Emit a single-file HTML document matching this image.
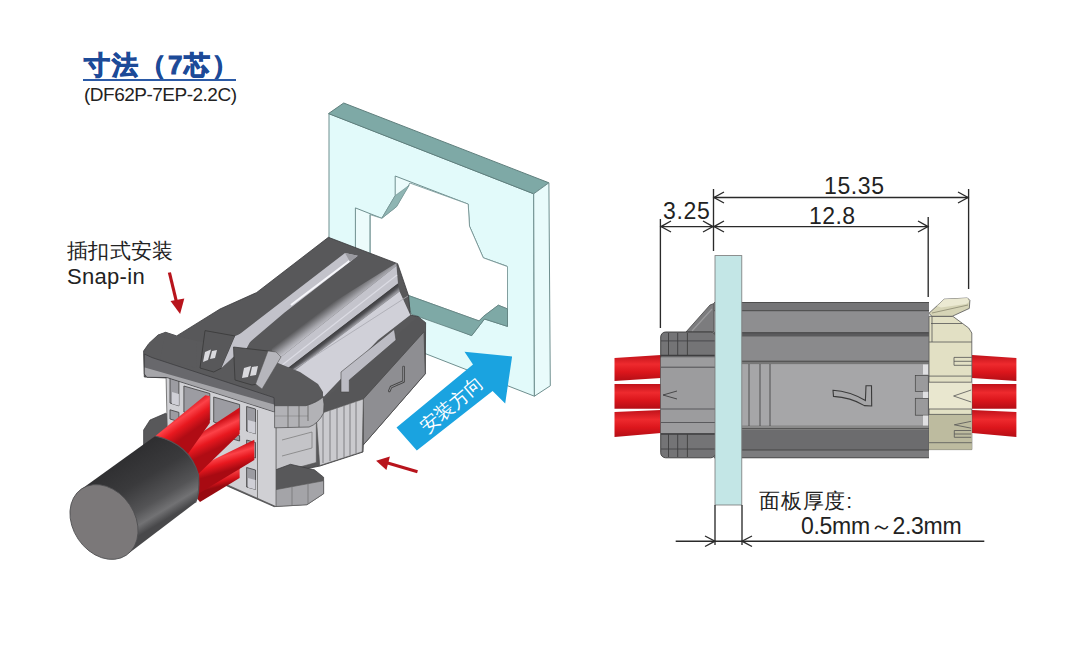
<!DOCTYPE html>
<html><head><meta charset="utf-8">
<style>
html,body{margin:0;padding:0;background:#fff;}
body{width:1080px;height:653px;overflow:hidden;position:relative;font-family:"Liberation Sans",sans-serif;}
svg{position:absolute;left:0;top:0;}
.t{position:absolute;white-space:nowrap;line-height:1;}
</style></head><body>
<svg width="1080" height="653" viewBox="0 0 1080 653">
<defs>
<linearGradient id="wireR" x1="0" y1="0" x2="0" y2="1">
<stop offset="0" stop-color="#c0121a"/><stop offset="0.35" stop-color="#ee2a2e"/><stop offset="0.65" stop-color="#dc161c"/><stop offset="1" stop-color="#b40e16"/>
</linearGradient>
</defs>

<!-- ============ PANEL ============ -->
<g id="panel">
 <polygon points="329,113.6 533.7,193.8 534.4,396.2 329,316" fill="#e2fafa" stroke="#6f8f8f" stroke-width="1"/>
 <polygon points="328.5,113.6 343.7,103 548.9,182.8 533.7,193.8" fill="#7ea9a6" stroke="#5f7f7d" stroke-width="1"/>
 <polygon points="533.7,193.8 548.9,182.8 550.3,385.8 534.4,396.2" fill="#e9fbfb" stroke="#6f8f8f" stroke-width="1"/>
 <!-- opening inner walls -->
 <polygon points="355.4,207.9 381.8,218.3 395.2,195.6 395.2,176 468.2,204.1 469.5,226.2 483.3,257.8 506.8,266.1 507.5,326.4 484.5,319 471.7,335.6 355.4,290" fill="#ecfbfb" stroke="#6f8f8f" stroke-width="1"/>
 <polygon points="370.1,214.6 381.8,218.3 396.5,206.7 409.9,183 468.2,204.1 469.5,226.2 483.3,257.8 507.5,266.6 507.5,308.9 498.3,305.2 483.6,316.3 479,320.9 407.4,295.1 370.1,280" fill="#ffffff" stroke="#6f8f8f" stroke-width="0.8"/>
 <polygon points="381.8,218.3 395.2,195.6 409.3,185.2 396.5,206.7" fill="#8fb5b3" stroke="#6f8f8f" stroke-width="0.6"/>
 <polygon points="407.4,295.1 479,320.9 483.6,316.3 498.3,305.2 507.5,308.9 507.5,326.4 484.5,319 471.7,335.6 411,314" fill="#7ea9a6" stroke="#5f7f7d" stroke-width="0.8"/>
 <line x1="370.1" y1="214.6" x2="370.1" y2="290" stroke="#6f8f8f" stroke-width="0.8"/>
</g>
<!-- blue arrow -->
<polygon points="396.5,427.6 473,364.5 464.5,351.8 512.1,356.4 505.2,403.5 492.6,390.9 416.8,450.6" fill="#1aa3e0"/>
<!-- red arrows -->
<line x1="169.4" y1="272.5" x2="176.5" y2="302" stroke="#b8141c" stroke-width="3.2"/>
<polygon points="170.5,301 184.3,298.5 180.1,314" fill="#b8141c"/>
<line x1="417.5" y1="471.7" x2="386" y2="462.5" stroke="#b8141c" stroke-width="3"/>
<polygon points="376.1,460.7 389.9,456.5 386.4,470" fill="#b8141c"/>

<!-- ============ LEFT CONNECTOR ============ -->
<g id="conn">
 <!-- roof silhouette -->
 <polygon points="143.6,351 148.5,344 158,335 165.6,332.3 176.7,335.9 220,309 256.7,292.5 328.4,237.3 397.6,263.7 400.5,272 408.6,295.8 410.3,315.1 418,316.5 425.6,322.7 425.3,373.8 363.3,444.9 363,452 320,466 275,475 168,440 167,378 144.3,377" fill="#58585a" stroke="#3a3a3c" stroke-width="0.8"/>
 <!-- groove stripe -->
 <polygon points="221.4,368.5 232,340 345,253 357.8,255.7 284.3,312.7 250,342 236,368" fill="#c2c2ca"/>
 <line x1="291" y1="305" x2="352" y2="259" stroke="#f6f6fa" stroke-width="2"/>
 <polygon points="345,253 357.8,255.7 350,262" fill="#9a9aa0"/>
 <!-- rail2 bevel -->
 <defs>
  <linearGradient id="bev" gradientUnits="userSpaceOnUse" x1="332" y1="303" x2="341" y2="315">
   <stop offset="0" stop-color="#58585a"/><stop offset="0.55" stop-color="#a4a4aa"/><stop offset="1" stop-color="#d4d4dc"/>
  </linearGradient>
  <linearGradient id="dln" gradientUnits="userSpaceOnUse" x1="335" y1="331" x2="339.3" y2="336.6">
   <stop offset="0" stop-color="#38383a"/><stop offset="0.5" stop-color="#505054"/><stop offset="1" stop-color="#9a9aa0"/>
  </linearGradient>
 </defs>
 <polygon points="270,341.5 396.5,263 396.5,265.7 281,357 272,351" fill="url(#bev)"/>
 <!-- rail2 front face -->
 <polygon points="281,357 396.5,265.7 398,283.6 262,388" fill="#c4c4cc"/>
 <line x1="272" y1="373" x2="397" y2="275" stroke="#dcdce4" stroke-width="1.2"/>
 <!-- dark line -->
 <polygon points="262,388 398,283.6 399.6,291.5 265,393" fill="url(#dln)"/>
 <!-- housing light face -->
 <polygon points="265,393 399.6,291.5 410.3,315 378,340 324,396.4 282,379" fill="#d0d0d8"/>
 <line x1="282" y1="377" x2="408" y2="296" stroke="#a8a8b0" stroke-width="0.8"/>
 <!-- lip top dark -->
 <polygon points="144.3,353 149,343 158,335 165.6,332.3 176.7,335.9 197,341 233.5,347 256,354 300,372 318,384 323,392 323,397 306,405.7 274.6,405.7 274,397.6 151.8,357.5" fill="#5a5a5c"/>
 <polygon points="165.6,332.3 176.7,335.9 197,341 196.8,368 160,359.6" fill="#5a5a5c"/>
 <!-- rail1 front end -->
 <polygon points="205,330.6 235.2,336 221.4,368.1 213.8,372 200,368" fill="#58585a" stroke="#333" stroke-width="0.7"/>
 <polygon points="221.4,368.1 235.2,336 250,330 250.5,341.3" fill="#c2c2ca"/>
 <polygon points="205,352 211,349.5 208,360 203,362" fill="#dadade"/>
 <polygon points="212,351 217,350 215,358 210,359" fill="#dadade"/>
 <!-- rail2 front end -->
 <polygon points="233.5,347 268,351 275.2,352.3 258,384 252,385 235,380" fill="#58585a" stroke="#333" stroke-width="0.7"/>
 <polygon points="244,368 251,366 248,377 242,378" fill="#dadade"/>
 <polygon points="252,367 258,366 256,375 250,376" fill="#dadade"/>
 <!-- rail2 rounded light edge -->
 <polygon points="268,351 276,352 281,357 262,389 255.6,384" fill="#b6b6bc" stroke="#555" stroke-width="0.5"/>
 <!-- right block top dark -->
 <polygon points="324,400 418,316.5 425.6,322.7 424,331.8 363.3,399 325,412" fill="#565658"/>
 <!-- latch on right block -->
 <polygon points="341,372 394.3,329.3 396,340 349.3,380 349.3,392 341,392" fill="#bcbcc4" stroke="#444" stroke-width="0.6"/>
 <!-- right block front face -->
 <polygon points="363.3,399 424,331.8 425.3,373.8 363.3,444.9" fill="#8e8e92" stroke="#444" stroke-width="0.7"/>
 <path d="M403.6,367 L403.6,381.5 Q398,384 391,387 L389.3,391" fill="none" stroke="#444" stroke-width="2.6" stroke-linecap="round" stroke-linejoin="round"/><path d="M403.6,367 L403.6,381.5 Q398,384 391,387 L389.3,391" fill="none" stroke="#8e8e92" stroke-width="1" stroke-linecap="round" stroke-linejoin="round"/>
 <!-- ribs -->
 <polygon points="316.2,415 363.3,399 362.2,451.8 319.7,465.6" fill="#cacace" stroke="#555" stroke-width="0.6"/>
 <g stroke="#77777b" stroke-width="0.9">
  <line x1="323" y1="413" x2="323" y2="463"/><line x1="330" y1="410.5" x2="330" y2="461"/>
  <line x1="337" y1="408" x2="337" y2="459"/><line x1="344" y1="406" x2="344" y2="457"/>
  <line x1="350" y1="404" x2="350" y2="455"/><line x1="356" y1="402" x2="356" y2="453"/>
 </g>
 <!-- housing side face between lips -->
 <polygon points="275.8,425.7 316.3,418.4 316.3,462.5 275.8,473.5" fill="#c4c4c8" stroke="#555" stroke-width="0.6"/>
 <polyline points="282,440 312,432 312,448 282,456" fill="none" stroke="#777" stroke-width="0.7"/>
 <!-- lower lip -->
 <polygon points="143.6,430 150,420 165.6,413.3 275,470 290.5,464.3 314.4,469.8 323.6,477.2 323.6,493.7 307,504.7 274,506.6 222.6,484 143.6,447" fill="#58585a" stroke="#3a3a3c" stroke-width="0.7"/>
 <polygon points="274,490 323.6,480.8 323.6,493.7 307,504.7 274,506.6" fill="#a4a4a8" stroke="#555" stroke-width="0.6"/>
 <line x1="292" y1="487" x2="292" y2="505" stroke="#666" stroke-width="0.6"/>
 <line x1="308" y1="484" x2="308" y2="504" stroke="#666" stroke-width="0.6"/>
 <!-- grid frame -->
 <polygon points="166,375 276,407 276,506.6 222.6,482.7 168,462" fill="#d0d0d4" stroke="#555" stroke-width="0.7"/>
 <g fill="#9c9ca2" stroke="#3c3c3e" stroke-width="0.8">
  <polygon points="170,378 178.9,380.6 178.9,405.8 170,403"/>
  <polygon points="183.9,386 209.8,393.5 209.8,420 183.9,412"/>
  <polygon points="213.7,397 239.6,404.5 239.6,430 213.7,422"/>
  <polygon points="246.6,406.5 255.5,409 255.5,433.7 246.6,431"/>
  <polygon points="225.7,431.7 239.6,435.7 239.6,441 225.7,437"/>
  <polygon points="246.6,467.5 255.5,470 255.5,489.4 246.6,487"/>
  <polygon points="170,409.8 178.9,412.4 178.9,421.7 170,419"/>
  <polygon points="246.6,440 255.5,442.5 255.5,458 246.6,455.5"/>
 </g>
 <g fill="#cfcfd6">
  <polygon points="172,392 178.9,394 178.9,405.8 172,403.8"/>
  <polygon points="248,420 255.5,422 255.5,433.7 248,431.7"/>
  <polygon points="248,478 255.5,480 255.5,489.4 248,487.4"/>
 </g>
 <line x1="257.5" y1="410" x2="257.5" y2="500" stroke="#666" stroke-width="0.8"/>
 <!-- lip front face -->
 <polygon points="144.3,354 151.8,357.5 274,397.6 274.6,412 166.8,377.5 147,377.2 144.3,374" fill="#68686c" stroke="#3a3a3c" stroke-width="0.7"/>
 <polygon points="144.8,367.5 274,404.5 274,411.5 166.8,377 147,376.7 144.8,374" fill="#a6a6aa"/>
 <path d="M274.6,405.7 L306,405.7 Q318,402 323,397 L324,404 L323.6,413 Q318,424 309,427 L274.6,427.8 Z" fill="#b2b2b6" stroke="#4a4a4c" stroke-width="0.7"/>
 <line x1="288" y1="406" x2="288" y2="427.5" stroke="#555" stroke-width="0.7"/><line x1="275" y1="416" x2="308" y2="416" stroke="#777" stroke-width="0.5"/>
 <line x1="299" y1="406" x2="299" y2="427" stroke="#555" stroke-width="0.7"/><line x1="308" y1="405" x2="308" y2="421" stroke="#555" stroke-width="0.7"/>
 <!-- wires -->
 <defs>
  <linearGradient id="w1" gradientUnits="userSpaceOnUse" x1="183" y1="408" x2="197" y2="428"><stop offset="0" stop-color="#d0121a"/><stop offset="0.3" stop-color="#fc4248"/><stop offset="0.6" stop-color="#e8181f"/><stop offset="1" stop-color="#b00c14"/></linearGradient>
  <linearGradient id="w2" gradientUnits="userSpaceOnUse" x1="208" y1="427" x2="218" y2="448"><stop offset="0" stop-color="#d0121a"/><stop offset="0.3" stop-color="#fc4248"/><stop offset="0.6" stop-color="#e8181f"/><stop offset="1" stop-color="#b00c14"/></linearGradient>
  <linearGradient id="w3" gradientUnits="userSpaceOnUse" x1="224" y1="450" x2="230" y2="470"><stop offset="0" stop-color="#d0121a"/><stop offset="0.3" stop-color="#fc4248"/><stop offset="0.6" stop-color="#e8181f"/><stop offset="1" stop-color="#a80a12"/></linearGradient>
  <linearGradient id="w4" gradientUnits="userSpaceOnUse" x1="218" y1="470" x2="222" y2="486"><stop offset="0" stop-color="#b80c14"/><stop offset="0.35" stop-color="#f23a3e"/><stop offset="0.7" stop-color="#d8141c"/><stop offset="1" stop-color="#980a10"/></linearGradient>
 </defs>
 <polygon points="188,488 239.6,461 239.6,478 200,502" fill="url(#w4)"/>
 <polygon points="184,474 254.3,439.7 254.3,460 198,494" fill="url(#w3)"/>
 <polygon points="163,458 239.6,407.6 239.6,434 190,482" fill="url(#w2)"/>
 <polygon points="148,442 205.3,395.3 209.8,396 209.8,423 178,468" fill="url(#w1)"/>
 <!-- cable -->
 <defs>
  <linearGradient id="cab" gradientUnits="userSpaceOnUse" x1="112" y1="462" x2="152" y2="528">
   <stop offset="0" stop-color="#2e2e30"/><stop offset="0.4" stop-color="#3a3a3c"/><stop offset="0.72" stop-color="#545456"/><stop offset="0.88" stop-color="#727274"/><stop offset="1" stop-color="#48484a"/>
  </linearGradient>
 </defs>
 <path d="M79.5,490.5 L155.2,436 Q190,444 198.5,475 Q200,494 195.6,502.5 L128.5,553.5 Z" fill="url(#cab)"/>
 <path d="M155.2,436 Q190,444 198.5,475 Q200,494 195.6,502.5" fill="none" stroke="#555558" stroke-width="1.2"/>
 <ellipse cx="104" cy="522" rx="40" ry="31" transform="rotate(56 104 522)" fill="#7b7879" stroke="#4e4e50" stroke-width="0.8"/>
</g>
<!-- ============ RIGHT DIAGRAM ============ -->
<g id="right">
 <!-- wires left -->
 <polygon points="614.5,358 661,355 661,378 614.5,381" fill="url(#wireR)"/>
 <polygon points="614.5,384 661,384 661,408.7 614.5,408.7" fill="url(#wireR)"/>
 <polygon points="614.5,412 661,410 661,433 614.5,437" fill="url(#wireR)"/>
 <!-- wires right -->
 <polygon points="972,355 1016.4,358 1016.4,381 972,378" fill="url(#wireR)"/>
 <polygon points="972,384 1016.4,384 1016.4,408.7 972,408.7" fill="url(#wireR)"/>
 <polygon points="972,410 1016.4,412 1016.4,437 972,433" fill="url(#wireR)"/>
 <!-- body -->
 <rect x="714" y="302.5" width="215" height="155.3" fill="#8c8c8e"/>
 <polygon points="686,332 710,305 714,303.5 714,332" fill="#7c7c7e" stroke="#444" stroke-width="0.8"/><line x1="692" y1="331" x2="712" y2="309" stroke="#9a9a9c" stroke-width="1.2"/>
 <rect x="714" y="302.5" width="215" height="8.2" fill="#757577"/>
 <rect x="714" y="310.7" width="215" height="22" fill="#8e8e90"/>
 <rect x="714" y="332.7" width="215" height="4" fill="#5a5a5c"/>
 <rect x="714" y="336.7" width="215" height="24.5" fill="#8a8a8c"/>
 <rect x="714" y="361.2" width="215" height="3" fill="#777"/>
 <rect x="714" y="364.2" width="215" height="61.4" fill="#a6a6a8"/>
 <rect x="714" y="425.6" width="215" height="4.4" fill="#8a8a8a"/>
 <rect x="714" y="430" width="215" height="20" fill="#6c6c6e"/>
 <rect x="714" y="450" width="215" height="7.8" fill="#7c7c7e"/>
 <g stroke="#3a3a3a" stroke-width="0.8" fill="none">
  <line x1="714" y1="302.5" x2="929" y2="302.5"/>
  <line x1="714" y1="310.7" x2="929" y2="310.7"/>
  <line x1="714" y1="332.7" x2="929" y2="332.7"/>
  <line x1="714" y1="361.2" x2="929" y2="361.2"/>
  <line x1="714" y1="428.7" x2="929" y2="428.7"/>
  <line x1="714" y1="450" x2="929" y2="450"/>
  <line x1="714" y1="457.8" x2="929" y2="457.8"/>
  <line x1="749" y1="364" x2="749" y2="426"/>
  <line x1="760" y1="364" x2="760" y2="426"/>
  <line x1="770" y1="364" x2="770" y2="426"/>
  <path d="M833,390.3 C845,391 856,395 865.4,400.5 L866,385.7 L871.5,385.7 L871.7,406 L864.4,405.6 C855,400 845,397 833.5,396.4 Z" stroke-width="1.1"/>
 </g>
 <!-- left block -->
 <rect x="660.7" y="332" width="55" height="125.8" rx="5" fill="#747476" stroke="#3a3a3a" stroke-width="0.9"/>
 <rect x="660.7" y="357.4" width="55" height="75.6" fill="#9c9c9e"/>
 <g stroke="#3e3e40" fill="none">
  <line x1="661" y1="340.9" x2="715" y2="340.9" stroke-width="0.8"/>
  <line x1="661" y1="355.5" x2="715" y2="355.5" stroke-width="1.6"/>
  <line x1="661" y1="367.2" x2="715" y2="367.2" stroke-width="0.8"/>
  <line x1="661" y1="409" x2="715" y2="409" stroke-width="0.7"/>
  <line x1="661" y1="422.5" x2="715" y2="422.5" stroke-width="0.7"/>
  <line x1="661" y1="434" x2="715" y2="434" stroke-width="1.6"/>
  <line x1="661" y1="449" x2="715" y2="449" stroke-width="0.8"/>
  <line x1="668.5" y1="333" x2="668.5" y2="356" stroke-width="0.9"/>
  <line x1="677.7" y1="333" x2="677.7" y2="356" stroke-width="0.9"/>
  <line x1="687.4" y1="333" x2="687.4" y2="356" stroke-width="0.9"/>
  <line x1="668.5" y1="434" x2="668.5" y2="457" stroke-width="0.9"/>
  <line x1="677.7" y1="434" x2="677.7" y2="457" stroke-width="0.9"/>
  <line x1="687.4" y1="434" x2="687.4" y2="457" stroke-width="0.9"/>
  <polyline points="677,391 663,395 677,399" stroke-width="0.9"/>
 </g>
 <!-- beige -->
 <polygon points="929,316.3 952.8,316.3 968.7,328 971.8,333 971.8,449.6 929,449.6" fill="#e2e0c4" stroke="#555" stroke-width="0.8"/>
 <rect x="929" y="382.2" width="42.8" height="26.8" fill="#e9e7cf"/>
 <rect x="929" y="414.4" width="42.8" height="35.2" fill="#bdbb9f"/>
 <polygon points="928.9,313.3 944.2,299.2 967.5,298 969.9,300.4 969.3,308.4 952.2,316.3 932,316.3" fill="#d6d4b6" stroke="#555" stroke-width="0.8"/>
 <polygon points="937,306 944.2,299.2 967.5,298 969,302 966,304 941,307.5" fill="#ebe9d2"/>
 <line x1="932" y1="313" x2="968" y2="305" stroke="#8a8870" stroke-width="0.8"/>
 <g stroke="#555" stroke-width="0.8" fill="none">
  <line x1="931" y1="323.5" x2="962" y2="323.5"/>
  <line x1="929" y1="342" x2="971.8" y2="342"/>
  <line x1="929" y1="376.1" x2="971.8" y2="376.1"/>
  <line x1="929" y1="382.2" x2="971.8" y2="382.2"/>
  <line x1="929" y1="409" x2="971.8" y2="409"/>
  <line x1="929" y1="414.4" x2="971.8" y2="414.4"/>
  <line x1="929" y1="442.7" x2="971.8" y2="442.7"/>
  <line x1="932" y1="316.3" x2="932" y2="342"/>
  <polyline points="971.8,357.4 954,357.4 954,365.3 971.8,365.3"/>
  <line x1="954" y1="361.3" x2="971.8" y2="361.3"/>
  <polyline points="971.2,390 953.6,396 971.2,402"/>
  <polyline points="971.2,421.3 954.3,424.8 971.2,428.2"/>
  <polyline points="971.2,430.5 954.3,430.5 954.3,437.3 971.2,437.3"/>
  <line x1="954.3" y1="434" x2="971.2" y2="434"/>
 </g>
 <g fill="#9a9a9c" stroke="#444" stroke-width="0.7">
  <rect x="915.3" y="375.4" width="13" height="16"/>
  <rect x="915.3" y="398.3" width="13" height="16.9"/>
 </g>
 <g fill="#e0e0e2">
  <rect x="923" y="364.5" width="5" height="10"/>
  <rect x="923" y="391.5" width="5" height="6.5"/>
  <rect x="923" y="415.5" width="5" height="10"/>
 </g>
 <!-- panel -->
 <rect x="715" y="255.6" width="26.8" height="249.4" fill="#c3e6e6" stroke="#777" stroke-width="0.8"/>
 <!-- dims -->
 <g stroke="#2a2a2a" stroke-width="1.35" fill="none">
  <line x1="713.5" y1="189" x2="713.5" y2="251"/>
  <line x1="660.4" y1="219" x2="660.4" y2="328"/>
  <line x1="968.6" y1="189" x2="968.6" y2="289"/>
  <line x1="928.2" y1="217" x2="928.2" y2="297"/>
  <line x1="713.5" y1="197.5" x2="968.6" y2="197.5"/>
  <line x1="660.4" y1="226.6" x2="928.2" y2="226.6"/>
  <polyline points="724,192 714,197.5 724,203"/>
  <polyline points="958,192 968,197.5 958,203"/>
  <polyline points="724,221 714,226.6 724,232"/>
  <polyline points="703,221 713,226.6 703,232"/>
  <polyline points="671,221 661,226.6 671,232"/>
  <polyline points="918,221 928,226.6 918,232"/>
  <line x1="715" y1="505" x2="715" y2="545"/>
  <line x1="742" y1="505" x2="742" y2="545"/>
  <line x1="675.7" y1="541.2" x2="984.3" y2="541.2"/>
  <polyline points="705,536 715,541.2 705,546.5"/>
  <polyline points="752,536 742,541.2 752,546.5"/>
 </g>
</g>
</svg>
<div class="t" style="left:84px;top:52px;font-size:26px;font-weight:bold;letter-spacing:2px;color:#1c4a98;-webkit-text-stroke:1px #1c4a98;">寸法（7芯）</div>
<div style="position:absolute;left:83px;top:79px;width:153px;height:2px;background:#2b5aa6;"></div>
<div class="t" style="left:84px;top:85px;font-size:19px;letter-spacing:-0.5px;color:#222;">(DF62P-7EP-2.2C)</div>
<div class="t" style="left:67px;top:240px;font-size:21px;letter-spacing:0.3px;color:#222;">插扣式安装</div>
<div class="t" style="left:67px;top:266px;font-size:22px;letter-spacing:0.3px;color:#222;">Snap-in</div>
<div class="t" style="left:663px;top:199.5px;font-size:23px;letter-spacing:0.7px;color:#222;">3.25</div>
<div class="t" style="left:824px;top:175px;font-size:23px;letter-spacing:0.6px;color:#222;">15.35</div>
<div class="t" style="left:809px;top:204.5px;font-size:23px;letter-spacing:0.4px;color:#222;">12.8</div>
<div class="t" style="left:759px;top:490px;font-size:21px;letter-spacing:0.8px;color:#222;">面板厚度:</div>
<div class="t" style="left:801px;top:515px;font-size:23px;letter-spacing:-0.3px;color:#222;">0.5mm～2.3mm</div>
<div class="t" style="left:412px;top:395px;width:80px;text-align:center;font-size:19px;color:#fff;transform:rotate(-40deg);transform-origin:40px 10px;">安装方向</div>
</body></html>
